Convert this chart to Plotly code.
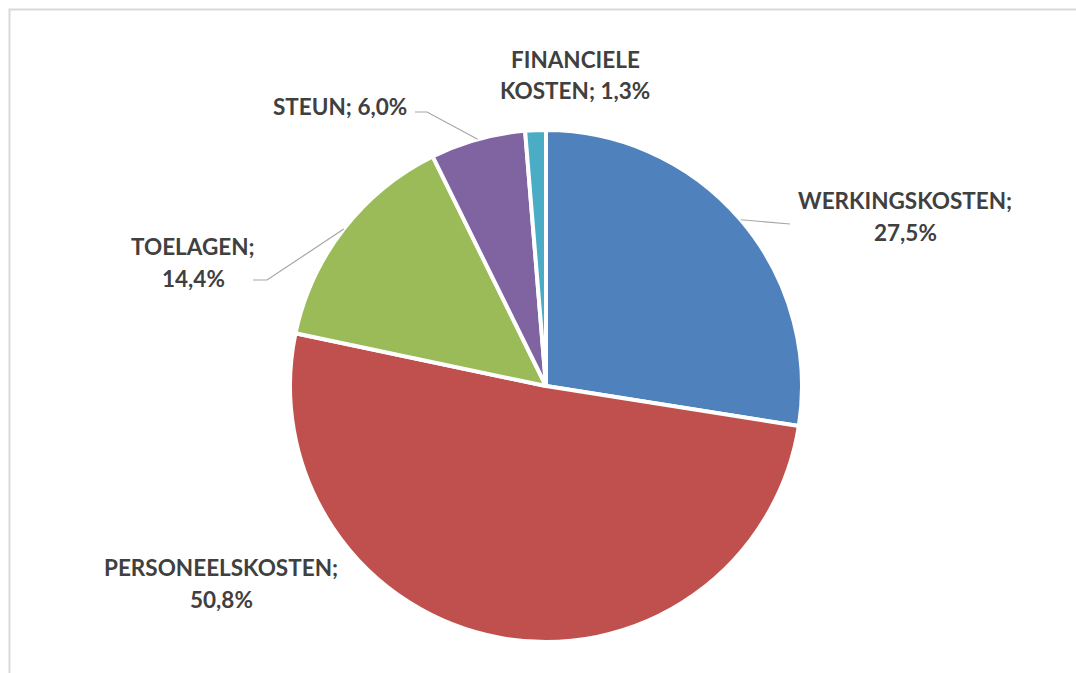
import math
import plotly.graph_objects as go

# Cost breakdown (share of total, %)
categories = ["WERKINGSKOSTEN", "PERSONEELSKOSTEN", "TOELAGEN", "STEUN", "FINANCIELE KOSTEN"]
values = [27.5, 50.8, 14.4, 6.0, 1.3]
colors = ["#4F81BD", "#C0504D", "#9BBB59", "#8064A2", "#4BACC6"]

W, H = 1076, 673
CX, CY, R = 546, 386, 256  # pie centre and radius in px
LINE_GAP = 32              # distance between label lines in px


def fmt(v):
    return f"{v:.1f}".replace(".", ",") + "%"


# label text layout: (line templates, centre x, centre y) in px
label_layout = {
    "WERKINGSKOSTEN": (["WERKINGSKOSTEN;", "{p}"], 905, 216),
    "PERSONEELSKOSTEN": (["PERSONEELSKOSTEN;", "{p}"], 221, 583),
    "TOELAGEN": (["TOELAGEN;", "{p}"], 193, 262),
    "STEUN": (["STEUN; {p}"], 340, 106),
    "FINANCIELE KOSTEN": (["FINANCIELE", "KOSTEN; {p}"], 575, 75),
}
# leader line waypoints after leaving the pie edge (px)
leader_points = {
    "WERKINGSKOSTEN": [(790, 224)],
    "TOELAGEN": [(267, 280), (253, 280)],
    "STEUN": [(427, 112), (415, 112)],
}


def px(x, y):
    return x / W, 1 - y / H


fig = go.Figure(
    go.Pie(
        labels=categories,
        values=values,
        sort=False,
        direction="clockwise",
        rotation=0,
        marker=dict(colors=colors, line=dict(color="white", width=4)),
        textinfo="none",
        hoverinfo="label+percent",
        showlegend=False,
        domain=dict(x=[(CX - R) / W, (CX + R) / W], y=[1 - (CY + R) / H, 1 - (CY - R) / H]),
    )
)

total = sum(values)
cum = 0.0
annotations = []
shapes = []
for cat, v in zip(categories, values):
    mid = (cum + v / 2) / total * 2 * math.pi
    cum += v
    lines, lx, ly = label_layout[cat]
    n = len(lines)
    for i, line in enumerate(lines):
        ax, ay = px(lx, ly + (i - (n - 1) / 2) * LINE_GAP)
        annotations.append(dict(
            x=ax, y=ay, xref="paper", yref="paper", showarrow=False,
            xanchor="center", yanchor="middle",
            text=line.format(p=fmt(v)),
            font=dict(family="Lato", size=22.5, color="#404040", weight="bold"),
        ))
    if cat in leader_points:
        pts = [(CX + R * math.sin(mid), CY - R * math.cos(mid))] + leader_points[cat]
        path = ""
        for i, (x, y) in enumerate(pts):
            fx, fy = px(x, y)
            path += ("M" if i == 0 else "L") + f"{fx},{fy} "
        shapes.append(dict(type="path", xref="paper", yref="paper", path=path.strip(),
                           line=dict(color="#A6A6A6", width=1.2)))

# chart area frame
x0, y1 = px(9.5, 9.5)
shapes.append(dict(type="rect", xref="paper", yref="paper", x0=x0, y0=-0.1, x1=1.1, y1=y1,
                   line=dict(color="#D9D9D9", width=2), layer="below"))

fig.update_layout(
    width=W, height=H,
    margin=dict(l=0, r=0, t=0, b=0),
    paper_bgcolor="white", plot_bgcolor="white",
    annotations=annotations, shapes=shapes,
)

fig.write_html("out.html")
